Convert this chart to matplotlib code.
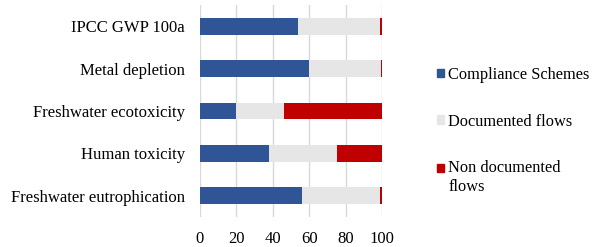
import matplotlib
matplotlib.use("Agg")
import matplotlib.pyplot as plt
from matplotlib.patches import Patch

categories = ["IPCC GWP 100a", "Metal depletion", "Freshwater ecotoxicity",
              "Human toxicity", "Freshwater eutrophication"]
compliance = [54, 60, 20, 38, 56]
documented = [45, 39.6, 26, 37, 43]
non_documented = [1, 0.4, 54, 25, 1]
xticks = [0, 20, 40, 60, 80, 100]

plt.rcParams['font.family'] = ['Liberation Serif', 'DejaVu Serif']

fig = plt.figure(figsize=(5.94, 2.47), dpi=100)
ax = fig.add_axes([200/594, 1-217/247, 182/594, 212/247])

ys = list(range(len(categories)))[::-1]
c_blue, c_gray, c_red = "#2F5597", "#E6E6E6", "#C00000"
h = 0.4
ax.barh(ys, compliance, height=h, color=c_blue, zorder=3)
ax.barh(ys, documented, left=compliance, height=h, color=c_gray, zorder=3)
left2 = [a + b for a, b in zip(compliance, documented)]
ax.barh(ys, non_documented, left=left2, height=h, color=c_red, zorder=3)

ax.set_xlim(0, 100)
ax.set_ylim(-0.5, 4.5)
ax.set_xticks(xticks)
ax.set_yticks(ys)
ax.set_yticklabels(categories, fontsize=12)
ax.tick_params(axis='x', labelsize=12, length=0, pad=10)
ax.tick_params(axis='y', length=0, pad=11)
ax.grid(axis='x', color="#D9D9D9", linewidth=1, zorder=0)
for s in ax.spines.values():
    s.set_visible(False)

handles = [Patch(color=c_blue), Patch(color=c_gray), Patch(color=c_red)]
labels = ["Compliance Schemes", "Documented flows", "Non documented\nflows"]
leg = fig.legend(handles, labels, loc='upper left', bbox_to_anchor=(422/594, 1-52/247),
                 frameon=False, fontsize=11.8, handlelength=0.45, handleheight=0.45,
                 handletextpad=0.25, labelspacing=1.88)
hp = leg.legend_handles[2]
hp.set_y(hp.get_y() + 7)

fig.savefig("out.png", dpi=100)
